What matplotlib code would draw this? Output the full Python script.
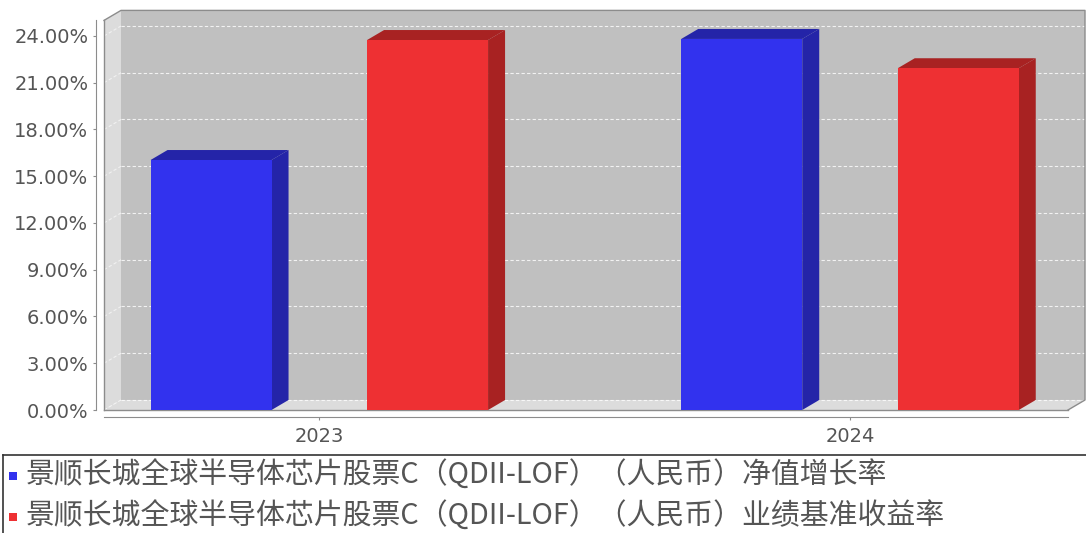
import matplotlib
matplotlib.use('Agg')
import matplotlib.pyplot as plt
from matplotlib.patches import Polygon, Rectangle
import numpy as np

years = ['2023', '2024']
series = [
    '景顺长城全球半导体芯片股票C（QDII-LOF）（人民币）净值增长率',
    '景顺长城全球半导体芯片股票C（QDII-LOF）（人民币）业绩基准收益率',
]
nav_growth = [16.04, 23.81]
benchmark = [23.74, 21.93]

front_colors = ['#3232EE', '#EE3033']
dark_colors = ['#2424A8', '#A82222']

W, H = 1086, 533
fig = plt.figure(figsize=(W / 100, H / 100), dpi=100)
ax = fig.add_axes([104 / W, (H - 410) / H, (1068 - 104) / W, (410 - 20.4) / H])
ax.patch.set_visible(False)

xmin, xmax = -0.4057, 1.4108
ymin, ymax = 0, 25.0
ax.set_xlim(xmin, xmax)
ax.set_ylim(ymin, ymax)

# 3d depth offset (17px right, 10px up) in data units
p0 = ax.transData.transform((0, 0))
DX, DY = ax.transData.inverted().transform(p0 + np.array([17, 10]))

wall = '#C0C0C0'
side_wall = '#DCDCDC'
edge = '#8C8C8C'

ax.add_patch(Rectangle((xmin + DX, DY), xmax - xmin, ymax - ymin, facecolor=wall,
                       edgecolor='none', clip_on=False, zorder=0))
ax.add_patch(Polygon([(xmin, 0), (xmin + DX, DY), (xmin + DX, ymax + DY), (xmin, ymax)],
                     closed=True, facecolor=side_wall, edgecolor='none', clip_on=False, zorder=0))
ax.add_patch(Polygon([(xmin, 0), (xmax, 0), (xmax + DX, DY), (xmin + DX, DY)],
                     closed=True, facecolor=side_wall, edgecolor='none', clip_on=False, zorder=0))

yticks = np.arange(0, 25, 3)
for v in yticks:
    ax.plot([xmin + DX, xmax + DX], [v + DY, v + DY], color='white', ls=(0, (3, 2)),
            lw=0.8, alpha=0.8, clip_on=False, zorder=1)
    ax.plot([xmin, xmin + DX], [v, v + DY], color='white', ls=(0, (3, 2)),
            lw=0.8, alpha=0.6, clip_on=False, zorder=1)

# outlines of the box
outline = dict(color=edge, lw=1.0, clip_on=False, zorder=2)
ax.plot([xmin, xmin + DX, xmax + DX, xmax + DX, xmax], [ymax, ymax + DY, ymax + DY, DY, 0], **outline)
ax.plot([xmin, xmin], [0, ymax], **outline)
ax.plot([xmin, xmax], [0, 0], **outline)

x = np.arange(len(years))
width = 0.228
offsets = [-0.204, 0.204]
for vals, off, fc, dc in zip([nav_growth, benchmark], offsets, front_colors, dark_colors):
    bars = ax.bar(x + off, vals, width=width, color=fc, zorder=5)
    for b in bars:
        x0, x1, h = b.get_x(), b.get_x() + b.get_width(), b.get_height()
        ax.add_patch(Polygon([(x1, 0), (x1 + DX, DY), (x1 + DX, h + DY), (x1, h)],
                             closed=True, facecolor=dc, edgecolor='none', zorder=4, clip_on=False))
        ax.add_patch(Polygon([(x0, h), (x1, h), (x1 + DX, h + DY), (x0 + DX, h + DY)],
                             closed=True, facecolor=dc, edgecolor='none', zorder=4, clip_on=False))

for s in ['top', 'right']:
    ax.spines[s].set_visible(False)
ax.spines['left'].set_position(('outward', 6))
ax.spines['bottom'].set_position(('outward', 5))
for s in ['left', 'bottom']:
    ax.spines[s].set_color(edge)

ax.set_yticks(yticks)
ax.set_yticklabels([f'{v:.2f}%' for v in yticks])
ax.set_xticks(x)
ax.set_xticklabels(years)
ax.tick_params(axis='both', colors=edge, labelcolor='#555555', labelsize=14, length=2.2)
ax.tick_params(axis='y', pad=3)
ax.tick_params(axis='x', pad=5)

# legend
fig.add_artist(plt.Line2D([3 / W, 1], [1 - 455 / H, 1 - 455 / H], color='#333333', lw=1.2))
fig.add_artist(plt.Line2D([3 / W, 3 / W], [0, 1 - 455 / H], color='#333333', lw=1.2))
for i, (lab, fc) in enumerate(zip(series, front_colors)):
    yc = [476, 517][i]
    fig.add_artist(Rectangle((9 / W, 1 - (yc + 4) / H), 8 / W, 8 / H, facecolor=fc,
                             edgecolor='none', transform=fig.transFigure))
    fig.text(26 / W, 1 - yc / H, lab, fontsize=20.8, color='#555555', va='center',
             family=['Noto Sans CJK SC', 'DejaVu Sans'])

fig.savefig('out.png', dpi=100)
